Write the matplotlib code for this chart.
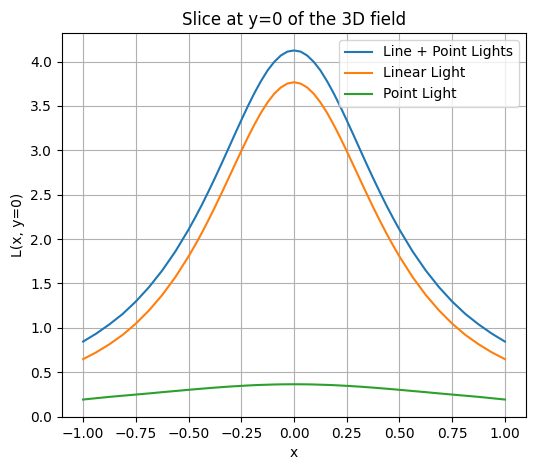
import numpy as np
import matplotlib
matplotlib.use("Agg")
import matplotlib.pyplot as plt

# x positions of the slice (finer steps near the peak)
x = [-1.0, -0.9375, -0.875, -0.8125, -0.75, -0.6875, -0.625, -0.5625, -0.5,
     -0.46875, -0.4375, -0.40625, -0.375, -0.34375, -0.3125, -0.28125, -0.25,
     -0.21875, -0.1875, -0.15625, -0.125, -0.09375, -0.0625, -0.03125, 0.0,
     0.03125, 0.0625, 0.09375, 0.125, 0.15625, 0.1875, 0.21875, 0.25,
     0.28125, 0.3125, 0.34375, 0.375, 0.40625, 0.4375, 0.46875, 0.5,
     0.5625, 0.625, 0.6875, 0.75, 0.8125, 0.875, 0.9375, 1.0]

# values
line_point = [0.846, 0.936, 1.040, 1.157, 1.297, 1.459, 1.646, 1.861, 2.107,
              2.242, 2.383, 2.533, 2.688, 2.848, 3.012, 3.177, 3.339,
              3.497, 3.646, 3.781, 3.901, 3.996, 4.068, 4.112, 4.125,
              4.112, 4.068, 3.996, 3.901, 3.781, 3.646, 3.497, 3.339,
              3.177, 3.012, 2.848, 2.688, 2.533, 2.383, 2.242, 2.107,
              1.861, 1.646, 1.459, 1.297, 1.157, 1.040, 0.936, 0.846]
linear = [0.648, 0.725, 0.816, 0.921, 1.048, 1.197, 1.370, 1.572, 1.805,
          1.933, 2.068, 2.212, 2.361, 2.516, 2.674, 2.834, 2.992,
          3.146, 3.291, 3.425, 3.541, 3.637, 3.708, 3.752, 3.767,
          3.752, 3.708, 3.637, 3.541, 3.425, 3.291, 3.146, 2.992,
          2.834, 2.674, 2.516, 2.361, 2.212, 2.068, 1.933, 1.805,
          1.572, 1.370, 1.197, 1.048, 0.921, 0.816, 0.725, 0.648]
point = [0.193, 0.208, 0.223, 0.236, 0.249, 0.262, 0.276, 0.289, 0.3025,
         0.3089, 0.315, 0.3212, 0.327, 0.3325, 0.338, 0.3426, 0.347,
         0.3511, 0.355, 0.3578, 0.360, 0.3624, 0.364, 0.3647, 0.365,
         0.3647, 0.364, 0.3624, 0.360, 0.3578, 0.355, 0.3511, 0.347,
         0.3426, 0.338, 0.3325, 0.327, 0.3212, 0.315, 0.3089, 0.3025,
         0.289, 0.276, 0.262, 0.249, 0.236, 0.223, 0.208, 0.193]

fig = plt.figure(figsize=(5.36, 4.70), dpi=100)
ax = fig.add_axes([0.1157, 0.1128, 0.8656, 0.817])
ax.plot(x, line_point, label='Line + Point Lights')
ax.plot(x, linear, label='Linear Light')
ax.plot(x, point, label='Point Light')
ax.set_xlabel('x')
ax.set_ylabel('L(x, y=0)')
ax.set_title('Slice at y=0 of the 3D field')
ax.legend(loc='upper right')
ax.grid(True)
fig.savefig('out.png', dpi=100)
